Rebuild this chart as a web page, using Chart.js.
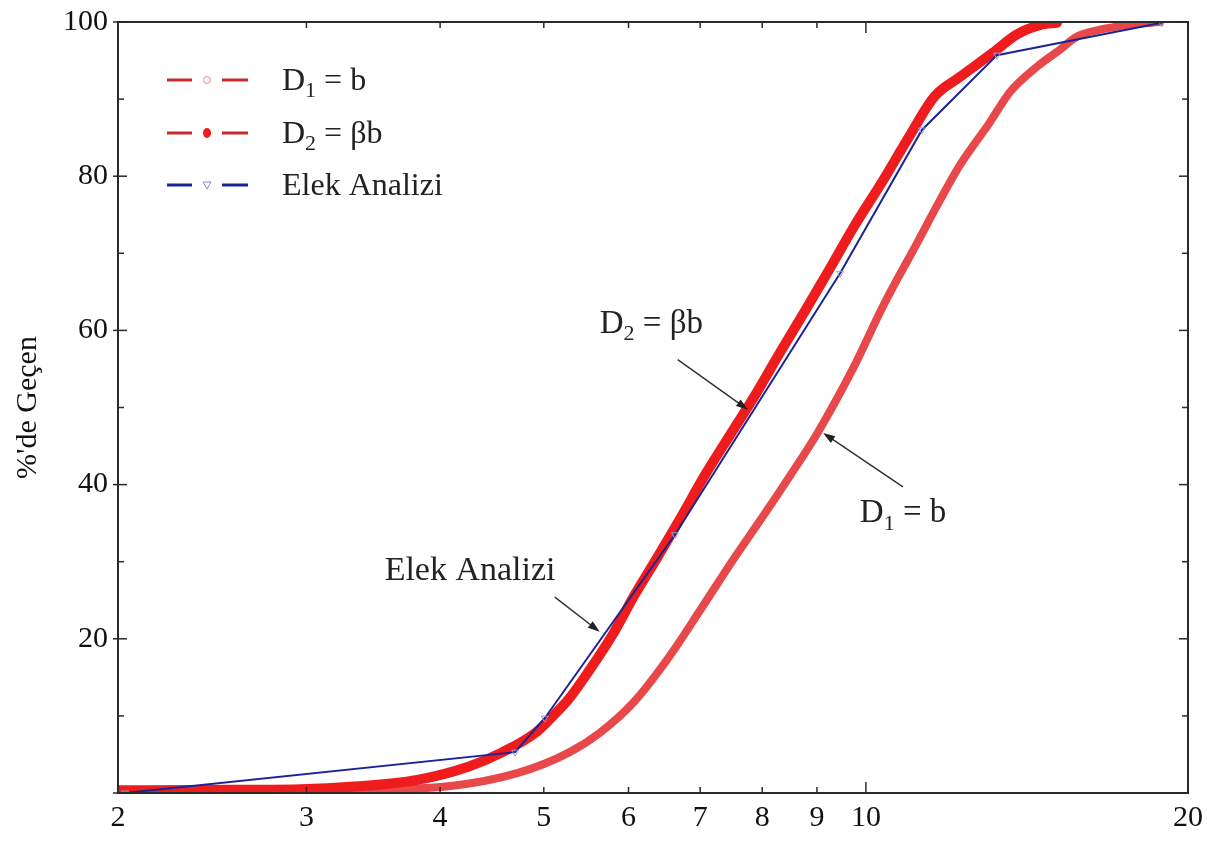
<!DOCTYPE html>
<html lang="tr">
<head>
<meta charset="UTF-8">
<title>Elek Analizi</title>
<style>
  html, body { margin: 0; padding: 0; background: #fff; }
</style>
</head>
<body>
<canvas id="chart" width="1207" height="843"></canvas>
<script src="https://cdn.jsdelivr.net/npm/chart.js"></script>
<script>
// Eksen tick değerleri
const xTicks = [2, 3, 4, 5, 6, 7, 8, 9, 10, 20];
const yTicks = [0, 20, 40, 60, 80, 100];
const yMinorTicks = [10, 30, 50, 70, 90];

// D1 = b
const d1X = [2.0, 2.66, 3.29, 4.09, 4.73, 5.27, 5.64, 6.06, 6.52, 7.0, 7.51, 7.96, 8.49, 9.02, 9.73, 10.38, 11.16, 11.73, 12.25, 13.06, 13.63, 14.45, 15.18, 15.75, 16.55, 17.77, 18.83];
const d1Y = [0.3, 0.35, 0.4, 0.9, 2.6, 5.2, 7.8, 11.7, 17.3, 23.7, 30.2, 35.3, 41.1, 46.8, 55.1, 63.2, 71.3, 76.9, 81.5, 87.0, 90.9, 94.2, 96.4, 98.1, 99.0, 99.7, 100];

// D2 = βb
const d2X = [2.0, 2.39, 2.96, 3.30, 3.81, 4.25, 4.56, 4.91, 5.10, 5.27, 5.52, 5.79, 6.08, 6.38, 6.70, 7.07, 7.47, 7.88, 8.31, 8.77, 9.26, 9.77, 10.38, 10.95, 11.60, 12.25, 13.14, 13.84, 14.54, 15.09];
const d2Y = [0.35, 0.4, 0.5, 0.8, 1.7, 3.4, 5.2, 7.8, 10.0, 12.1, 16.0, 20.4, 25.7, 30.5, 35.5, 41.2, 46.5, 51.6, 57.1, 62.5, 68.1, 73.7, 79.5, 84.9, 90.4, 92.9, 96.0, 98.4, 99.6, 99.9];

// Elek Analizi
const elekX = [2.03, 4.70, 5.01, 6.63, 9.46, 11.28, 13.26, 18.9];
const elekY = [0, 5.3, 9.7, 33.5, 67.4, 86.0, 95.7, 99.9];

const zip = (xs, ys) => xs.map((x, i) => ({ x: x, y: ys[i] }));

const serif = 'Liberation Serif';
const red2 = '#ee1c1c';
const red1 = '#e9484a';
const blue = '#1c2396';

// yazı + alt indis (D1, D2)
function subText(ctx, x, y, main, sub, rest, size) {
    ctx.font = size + 'px "' + serif + '"';
    ctx.fillText(main, x, y);
    x += ctx.measureText(main).width;
    ctx.font = Math.round(size * 0.68) + 'px "' + serif + '"';
    ctx.fillText(sub, x, y + size * 0.22);
    x += ctx.measureText(sub).width;
    ctx.font = size + 'px "' + serif + '"';
    ctx.fillText(rest, x, y);
}

function arrow(ctx, x1, y1, x2, y2) {
    const ang = Math.atan2(y2 - y1, x2 - x1);
    ctx.beginPath();
    ctx.moveTo(x1, y1);
    ctx.lineTo(x2 - 8 * Math.cos(ang), y2 - 8 * Math.sin(ang));
    ctx.stroke();
    ctx.beginPath();
    ctx.moveTo(x2, y2);
    ctx.lineTo(x2 - 12 * Math.cos(ang) + 4 * Math.sin(ang), y2 - 12 * Math.sin(ang) - 4 * Math.cos(ang));
    ctx.lineTo(x2 - 12 * Math.cos(ang) - 4 * Math.sin(ang), y2 - 12 * Math.sin(ang) + 4 * Math.cos(ang));
    ctx.closePath();
    ctx.fill();
}

// Çerçeve, içe dönük tickler, lejant ve oklar
const decor = {
    id: 'decor',
    afterDraw(chart) {
        const { ctx, chartArea: a, scales: { x, y } } = chart;
        ctx.save();
        ctx.strokeStyle = '#2a2a2a';
        ctx.lineWidth = 2;
        ctx.strokeRect(a.left, a.top, a.right - a.left, a.bottom - a.top);

        const line = (x1, y1, x2, y2) => { ctx.beginPath(); ctx.moveTo(x1, y1); ctx.lineTo(x2, y2); ctx.stroke(); };
        ctx.lineWidth = 1.5;
        xTicks.forEach(v => {
            const px = x.getPixelForValue(v);
            const len = v === 10 ? 11 : 6;
            line(px, a.bottom, px, a.bottom - len);
            line(px, a.top, px, a.top + len);
        });
        yTicks.forEach(v => {
            const py = y.getPixelForValue(v);
            line(a.left - 5, py, a.left + 9, py);
            line(a.right - 9, py, a.right, py);
        });
        yMinorTicks.forEach(v => {
            const py = y.getPixelForValue(v);
            line(a.left, py, a.left + 6, py);
            line(a.right - 6, py, a.right, py);
        });

        // lejant
        const rows = [
            { c: '#cc2a2a', m: 'open', main: 'D', sub: '1', rest: ' = b', dy: 58 },
            { c: '#cc2a2a', m: 'dot', main: 'D', sub: '2', rest: ' = \u03b2b', dy: 111 },
            { c: blue, m: 'tri', main: 'Elek Analizi', sub: '', rest: '', dy: 163 }
        ];
        rows.forEach(r => {
            const ly = a.top + r.dy;
            ctx.strokeStyle = r.c;
            ctx.lineWidth = 3;
            line(a.left + 49, ly, a.left + 74, ly);
            line(a.left + 104, ly, a.left + 130, ly);
            const mx = a.left + 89;
            ctx.lineWidth = 1;
            if (r.m === 'open') {
                ctx.strokeStyle = '#e98a8a';
                ctx.beginPath(); ctx.arc(mx, ly, 3.5, 0, Math.PI * 2); ctx.stroke();
            } else if (r.m === 'dot') {
                ctx.fillStyle = red2;
                ctx.beginPath(); ctx.ellipse(mx, ly, 4, 5, 0, 0, Math.PI * 2); ctx.fill();
            } else {
                ctx.strokeStyle = '#8c8cc8';
                ctx.beginPath(); ctx.moveTo(mx - 4, ly - 3); ctx.lineTo(mx + 4, ly - 3); ctx.lineTo(mx, ly + 4); ctx.closePath(); ctx.stroke();
            }
            ctx.fillStyle = '#222';
            ctx.textBaseline = 'alphabetic';
            subText(ctx, a.left + 164, ly + 10, r.main, r.sub, r.rest, 32);
        });

        // açıklamalar ve oklar
        ctx.fillStyle = '#222';
        ctx.strokeStyle = '#333';
        ctx.lineWidth = 1.5;
        subText(ctx, x.getPixelForValue(5.64), y.getPixelForValue(59.7), 'D', '2', ' = \u03b2b', 33);
        arrow(ctx, x.getPixelForValue(6.67), y.getPixelForValue(56.2), x.getPixelForValue(7.76), y.getPixelForValue(49.7));
        subText(ctx, x.getPixelForValue(9.87), y.getPixelForValue(35.1), 'D', '1', ' = b', 33);
        arrow(ctx, x.getPixelForValue(10.83), y.getPixelForValue(39.7), x.getPixelForValue(9.12), y.getPixelForValue(46.7));
        subText(ctx, x.getPixelForValue(3.55), y.getPixelForValue(27.6), 'Elek Analizi', '', '', 34);
        arrow(ctx, x.getPixelForValue(5.12), y.getPixelForValue(25.4), x.getPixelForValue(5.64), y.getPixelForValue(20.9));
        ctx.restore();
    }
};

const tickFont = { family: serif, size: 30 };

new Chart(document.getElementById('chart'), {
    type: 'line',
    data: {
        datasets: [
            {
                label: 'Elek Analizi',
                data: zip(elekX, elekY),
                borderColor: blue,
                borderWidth: 2,
                tension: 0,
                pointStyle: 'triangle',
                pointRotation: 180,
                pointRadius: 4,
                pointBorderWidth: 1,
                pointBorderColor: '#9a9ad0',
                pointBackgroundColor: 'rgba(0,0,0,0)',
                order: 0
            },
            {
                label: 'D2 = \u03b2b',
                data: zip(d2X, d2Y),
                borderColor: red2,
                borderWidth: 10,
                borderCapStyle: 'round',
                borderJoinStyle: 'round',
                cubicInterpolationMode: 'monotone',
                pointRadius: 0,
                order: 1
            },
            {
                label: 'D1 = b',
                data: zip(d1X, d1Y),
                borderColor: red1,
                borderWidth: 8,
                borderCapStyle: 'round',
                borderJoinStyle: 'round',
                cubicInterpolationMode: 'monotone',
                pointRadius: 0,
                order: 2
            }
        ]
    },
    options: {
        responsive: false,
        animation: false,
        layout: { padding: { top: 22, right: 19, left: 0, bottom: 0 } },
        plugins: {
            legend: { display: false },
            tooltip: { enabled: false }
        },
        scales: {
            x: {
                type: 'logarithmic',
                min: 2,
                max: 20,
                grid: { display: false, drawTicks: false },
                border: { display: false },
                afterBuildTicks: s => { s.ticks = xTicks.map(v => ({ value: v })); },
                afterFit: s => { s.height = 50; s.paddingLeft = 0; s.paddingRight = 0; },
                ticks: {
                    autoSkip: false,
                    maxRotation: 0,
                    padding: 7,
                    color: '#111',
                    font: tickFont,
                    callback: v => String(v)
                }
            },
            y: {
                min: 0,
                max: 100,
                grid: { display: false, drawTicks: false },
                border: { display: false },
                afterBuildTicks: s => { s.ticks = yTicks.map(v => ({ value: v })); },
                afterFit: s => { s.width = 118; s.paddingTop = 0; s.paddingBottom = 0; },
                ticks: {
                    padding: 10,
                    color: '#111',
                    font: tickFont,
                    callback: v => (v === 0 ? '' : String(v))
                },
                title: {
                    display: true,
                    text: "%'de Geçen",
                    color: '#111',
                    font: { family: serif, size: 30 },
                    padding: { top: 10, bottom: 0 }
                }
            }
        }
    },
    plugins: [decor]
});
</script>
</body>
</html>
